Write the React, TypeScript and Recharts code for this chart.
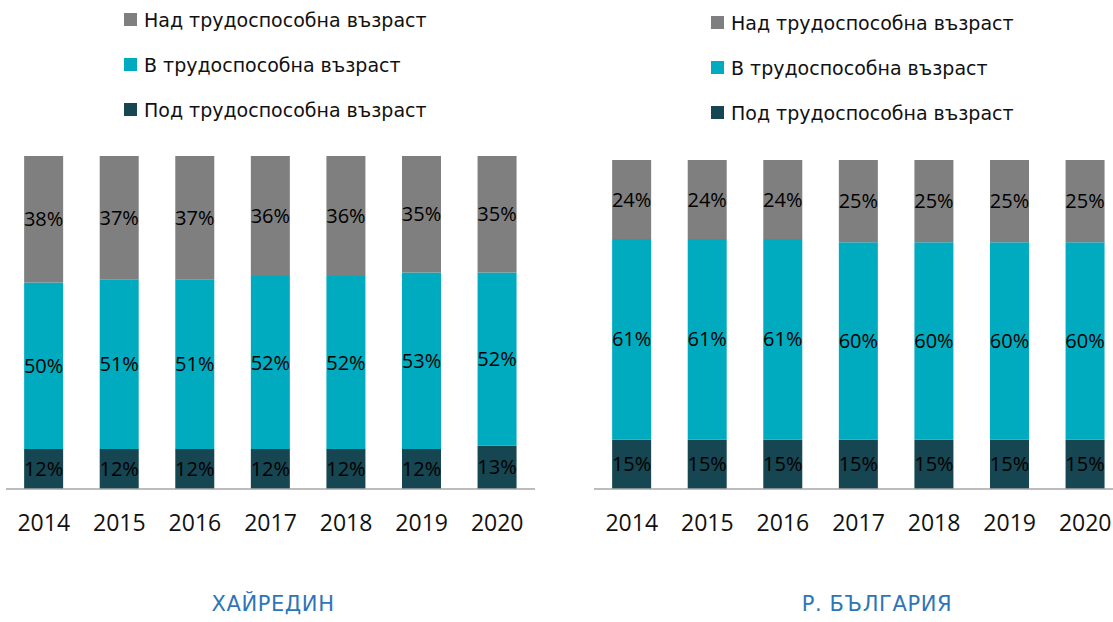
import { Bar, BarChart, LabelList, Legend, XAxis, YAxis } from "recharts"

const years = ["2014", "2015", "2016", "2017", "2018", "2019", "2020"]

// Хайредин
const localUnder = [12, 12, 12, 12, 12, 12, 13]
const localWorking = [50, 51, 51, 52, 52, 53, 52]
const localOver = [38, 37, 37, 36, 36, 35, 35]

// Р. България
const bgUnder = [15, 15, 15, 15, 15, 15, 15]
const bgWorking = [61, 61, 61, 60, 60, 60, 60]
const bgOver = [24, 24, 24, 25, 25, 25, 25]

const seriesNames = ["Под трудоспособна възраст", "В трудоспособна възраст", "Над трудоспособна възраст"]
const seriesColors = ["#164652", "#00abbf", "#7f7f7f"]

const FONT = "'DejaVu Sans', sans-serif"
const NUM_FONT = "'Open Sans', sans-serif"

function buildRows(under: number[], working: number[], over: number[]) {
  return years.map((year, i) => ({ year, under: under[i], working: working[i], over: over[i] }))
}

function LegendBox() {
  // обратен ред - горната серия е първа
  const items = seriesNames.map((name, i) => ({ name, color: seriesColors[i] })).reverse()
  return (
    <div>
      {items.map((it) => (
        <div key={it.name} style={{ display: "flex", alignItems: "center", height: 45 }}>
          <span style={{ width: 13, height: 13, background: it.color, marginRight: 7, display: "inline-block" }} />
          <span style={{ fontFamily: FONT, fontSize: 19, color: "#111" }}>{it.name}</span>
        </div>
      ))}
    </div>
  )
}

function Panel({
  rows,
  width,
  margin,
  legendPos,
}: {
  rows: ReturnType<typeof buildRows>
  width: number
  margin: { top: number; right: number; left: number; bottom: number }
  legendPos: { left: number; top: number }
}) {
  const keys = ["under", "working", "over"]
  return (
    <BarChart width={width} height={622} data={rows} margin={margin} barCategoryGap="24%" style={{ overflow: "visible" }}>
      <XAxis
        dataKey="year"
        height={40}
        tickLine={false}
        tickMargin={20}
        axisLine={{ stroke: "#a6a6a6", strokeWidth: 1.5 }}
        tick={{ fill: "#111", fontSize: 23, fontFamily: NUM_FONT }}
        interval={0}
      />
      <YAxis hide domain={[0, 100]} />
      <Legend
        layout="vertical"
        align="center"
        verticalAlign="middle"
        wrapperStyle={{ left: legendPos.left, top: legendPos.top, width: 420 }}
        content={() => <LegendBox />}
      />
      {keys.map((k, i) => (
        <Bar key={k} dataKey={k} stackId="a" fill={seriesColors[i]} isAnimationActive={false}>
          <LabelList
            dataKey={k}
            position="center"
            fill="#000"
            fontSize={20}
            fontFamily={NUM_FONT}
            formatter={(v: any) => `${v}%`}
          />
        </Bar>
      ))}
    </BarChart>
  )
}

export default function App() {
  const localRows = buildRows(localUnder, localWorking, localOver)
  const bgRows = buildRows(bgUnder, bgWorking, bgOver)

  const titleStyle = {
    position: "absolute" as const,
    top: 592,
    width: 240,
    textAlign: "center" as const,
    fontFamily: FONT,
    fontSize: 21,
    letterSpacing: 0.6,
    color: "#2e75b6",
  }

  return (
    <div style={{ position: "fixed", left: 0, top: 0, width: 1113, height: 622, overflow: "hidden", background: "#fff" }}>
      <div style={{ position: "absolute", left: 0, top: 0 }}>
        <Panel
          rows={localRows}
          width={560}
          margin={{ top: 156, right: 25, left: 6, bottom: 93 }}
          legendPos={{ left: 124, top: -3 }}
        />
      </div>
      <div style={{ position: "absolute", left: 560, top: 0 }}>
        <Panel
          rows={bgRows}
          width={553}
          margin={{ top: 160, right: -10, left: 34, bottom: 93 }}
          legendPos={{ left: 151, top: 0 }}
        />
      </div>
      <div style={{ ...titleStyle, left: 153 }}>ХАЙРЕДИН</div>
      <div style={{ ...titleStyle, left: 757 }}>Р. БЪЛГАРИЯ</div>
    </div>
  )
}
